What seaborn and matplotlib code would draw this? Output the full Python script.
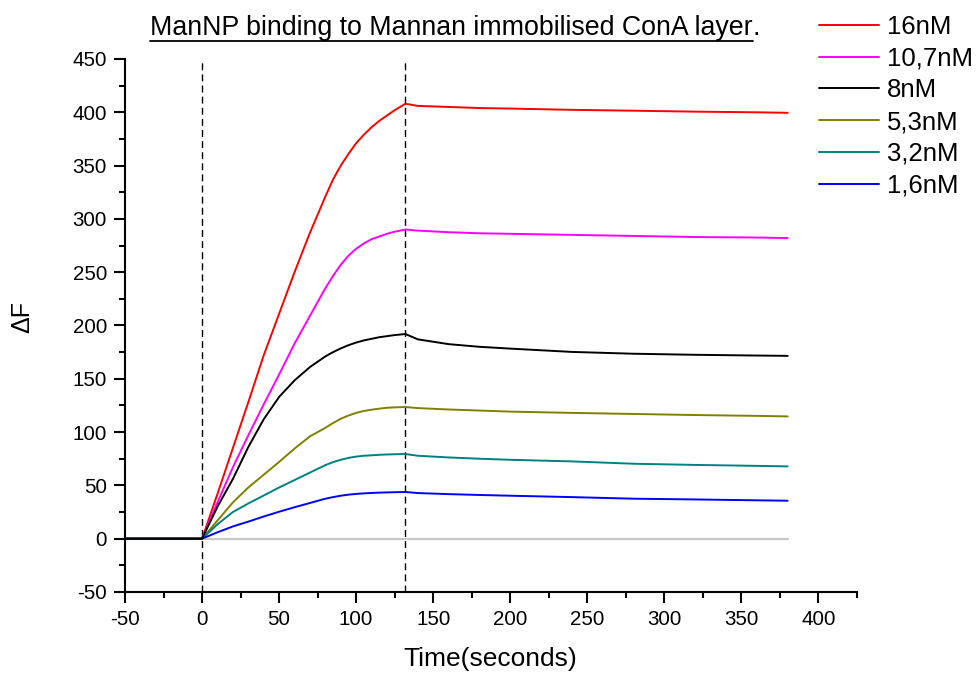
import matplotlib
matplotlib.use("Agg")
import matplotlib.pyplot as plt
from matplotlib.lines import Line2D
from matplotlib.ticker import MultipleLocator
import numpy as np
import pandas as pd
import seaborn as sns

# Sampling times (s) shared by every concentration trace
time = [-50, 0, 10, 20, 30, 40, 50, 60, 70, 80, 85, 90, 95, 100, 105, 110,
        115, 120, 125, 132, 140, 160, 180, 200, 240, 280, 320, 360, 380]

# Fluorescence response (ΔF) per ManNP concentration
f_16 = [0, 0, 42, 85, 128, 172, 211, 250, 287, 321, 337, 350, 361, 371, 379,
        386, 392, 397, 402, 408, 406, 405, 404, 403.5, 402.3, 401.5, 400.6,
        400, 399.5]
f_10_7 = [0, 0, 34, 67, 97, 126, 154, 183, 209, 235, 246.5, 257, 265.5, 272,
          277, 281, 283.5, 286, 288, 290, 289, 287.5, 286.5, 286, 285, 284,
          283, 282.5, 282]
f_8 = [0, 0, 30, 56, 86, 112, 133, 148.5, 161, 171, 175, 178.5, 181.5, 184,
       186, 187.5, 189, 190, 191, 192, 187, 182.5, 180, 178.3, 175.2, 173.5,
       172.5, 171.8, 171.5]
f_5_3 = [0, 0, 17, 34, 48, 60, 72, 84.5, 96, 104, 108.5, 112.5, 115.5, 118,
         119.8, 121, 122, 122.8, 123.2, 123.5, 122.5, 121.2, 120.2, 119.2,
         118, 117, 116, 115.2, 114.7]
f_3_2 = [0, 0, 13.5, 25, 33, 40.5, 48, 55, 62, 69, 71.8, 74, 75.8, 77, 77.8,
         78.2, 78.7, 79, 79.2, 79.4, 77.8, 76.2, 75, 74, 72.5, 70.3, 69.2,
         68.3, 67.8]
f_1_6 = [0, 0, 6, 11.5, 16, 20.8, 25.3, 29.5, 33.5, 37.5, 39, 40.3, 41.3, 42,
         42.5, 42.9, 43.2, 43.4, 43.6, 43.8, 42.8, 41.8, 41, 40.3, 39, 37.5,
         36.8, 36, 35.6]

labels = ["16nM", "10,7nM", "8nM", "5,3nM", "3,2nM", "1,6nM"]
series = [f_16, f_10_7, f_8, f_5_3, f_3_2, f_1_6]
colors = ["#ff0000", "#ff00ff", "#000000", "#808000", "#008080", "#0000ff"]

# injection start and end of association phase
events = [0, 132]

sns.set_theme(style="ticks")
plt.rcParams["font.family"] = ["Liberation Sans", "DejaVu Sans"]
plt.rcParams["axes.unicode_minus"] = False
plt.rcParams["text.color"] = "black"

df = pd.DataFrame({
    "time": np.tile(time, len(labels)),
    "dF": np.concatenate(series),
    "conc": np.repeat(labels, len(time)),
})

fig = plt.figure(figsize=(9.79, 6.75), dpi=100)
ax = fig.add_axes([0.1277, 0.123, 0.7477, 0.7896])

# baseline
ax.plot([time[0], time[-1]], [0, 0], color="#c8c8c8", lw=1.6, zorder=1)

for lab, col in zip(labels, colors):
    sub = df[df["conc"] == lab]
    sns.lineplot(data=sub, x="time", y="dF", color=col, lw=1.4, ax=ax,
                 label=lab, estimator=None, sort=False,
                 zorder=4 if lab == "8nM" else 3)

for ev in events:
    ax.axvline(ev, color="black", lw=1.0, ls=(0, (5, 3)), zorder=2)

ax.set_xlim(-50, 425)
ax.set_ylim(-50, 450)
ax.xaxis.set_major_locator(MultipleLocator(50))
ax.xaxis.set_minor_locator(MultipleLocator(25))
ax.yaxis.set_major_locator(MultipleLocator(50))
ax.yaxis.set_minor_locator(MultipleLocator(25))
ax.set_xticks(np.arange(-50, 401, 50))

for s in ["top", "right"]:
    ax.spines[s].set_visible(False)
for s in ["left", "bottom"]:
    ax.spines[s].set_linewidth(1.5)
    ax.spines[s].set_color("black")

ax.tick_params(which="major", direction="out", length=8, width=1.5,
               labelsize=14.8, colors="black", labelcolor="black", pad=5)
ax.tick_params(which="minor", direction="out", length=4.5, width=1.5,
               colors="black")

ax.set_xlabel("")
ax.set_ylabel("")
fig.text(490 / 979, 1 - 666 / 675, "Time(seconds)", ha="center",
         va="baseline", fontsize=19, color="black")
fig.text(22 / 979, 1 - 317 / 675, "ΔF", ha="center", va="center",
         rotation=90, fontsize=18, color="black")

leg = ax.legend(loc="upper left", bbox_to_anchor=(819 / 979, 1 - 15 / 675),
                bbox_transform=fig.transFigure, frameon=False,
                fontsize=18.5, handlelength=2.35, handletextpad=0.3,
                labelspacing=0.3, borderaxespad=0, borderpad=0,
                labelcolor="black")
for h in leg.get_lines():
    h.set_linewidth(1.4)

# underlined title; trailing period stays outside the underline
title = fig.text(150 / 979, 1 - 35 / 675,
                 "ManNP binding to Mannan immobilised ConA layer",
                 ha="left", va="baseline", fontsize=19.3, color="black")
fig.canvas.draw()
bb = title.get_window_extent(fig.canvas.get_renderer())
W, H = fig.bbox.width, fig.bbox.height
uy = 1 - 40.5 / 675
fig.add_artist(Line2D([bb.x0 / W, bb.x1 / W], [uy, uy],
                      transform=fig.transFigure, color="black", lw=1.3))
fig.text(bb.x1 / W, 1 - 35 / 675, ".", ha="left", va="baseline",
         fontsize=19.3, color="black")

fig.savefig("out.png", dpi=100)
